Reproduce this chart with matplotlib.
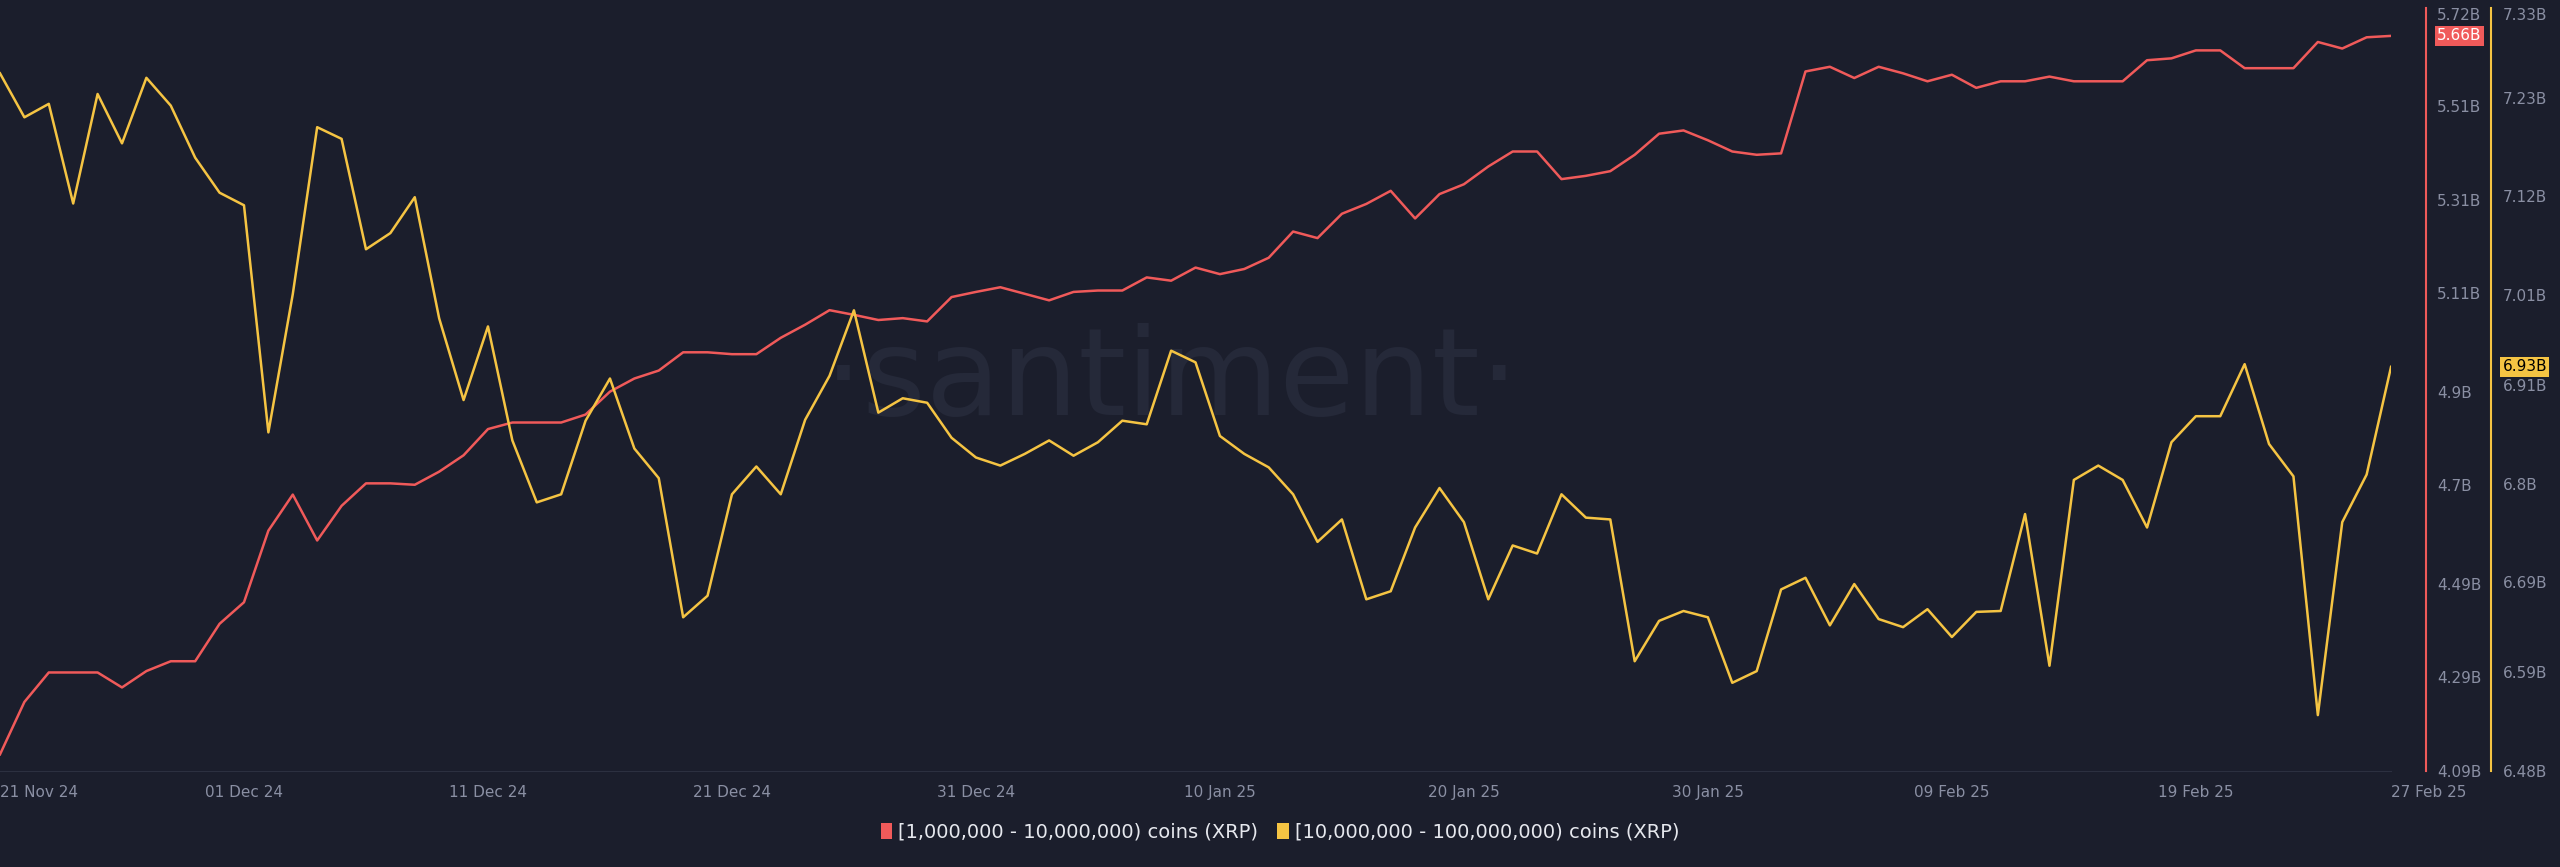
import pandas as pd
import matplotlib
matplotlib.use('Agg')
import matplotlib.pyplot as plt

# daily balances (billions of XRP) held by wallet cohorts, 21 Nov 24 - 27 Feb 25
dates = pd.date_range('2024-11-21', '2025-02-27', freq='D')
small_whales = [
    4.125, 4.237, 4.300, 4.300, 4.300, 4.268, 4.303, 4.324, 4.324, 4.404,
    4.450, 4.603, 4.680, 4.582, 4.656, 4.704, 4.704, 4.701, 4.729, 4.764,
    4.820, 4.834, 4.834, 4.834, 4.851, 4.900, 4.928, 4.945, 4.984, 4.984,
    4.980, 4.980, 5.015, 5.043, 5.074, 5.064, 5.053, 5.057, 5.050, 5.102,
    5.113, 5.123, 5.109, 5.095, 5.113, 5.116, 5.116, 5.144, 5.137, 5.165,
    5.151, 5.162, 5.186, 5.242, 5.228, 5.280, 5.301, 5.329, 5.270, 5.322,
    5.343, 5.381, 5.413, 5.413, 5.354, 5.361, 5.371, 5.406, 5.451, 5.458,
    5.437, 5.413, 5.406, 5.409, 5.584, 5.594, 5.570, 5.594, 5.580, 5.563,
    5.577, 5.549, 5.563, 5.563, 5.573, 5.563, 5.563, 5.563, 5.608, 5.612,
    5.629, 5.629, 5.591, 5.591, 5.591, 5.647, 5.633, 5.657, 5.660]
big_whales = [
    7.257, 7.208, 7.223, 7.112, 7.234, 7.179, 7.252, 7.221, 7.163, 7.124,
    7.110, 6.857, 7.011, 7.197, 7.184, 7.061, 7.079, 7.119, 6.984, 6.893,
    6.975, 6.848, 6.779, 6.788, 6.870, 6.917, 6.839, 6.806, 6.651, 6.675,
    6.788, 6.819, 6.788, 6.871, 6.920, 6.993, 6.879, 6.895, 6.890, 6.851,
    6.829, 6.820, 6.833, 6.848, 6.831, 6.846, 6.870, 6.866, 6.948, 6.935,
    6.853, 6.833, 6.818, 6.788, 6.735, 6.760, 6.671, 6.680, 6.751, 6.795,
    6.757, 6.671, 6.731, 6.722, 6.788, 6.762, 6.760, 6.602, 6.647, 6.658,
    6.651, 6.578, 6.591, 6.682, 6.695, 6.642, 6.688, 6.649, 6.640, 6.660,
    6.629, 6.657, 6.658, 6.766, 6.597, 6.804, 6.820, 6.804, 6.751, 6.846,
    6.875, 6.875, 6.933, 6.844, 6.808, 6.542, 6.757, 6.810, 6.930]

red_ticks = [4.09, 4.29, 4.49, 4.7, 4.9, 5.11, 5.31, 5.51, 5.72]
yellow_ticks = [6.48, 6.59, 6.69, 6.8, 6.91, 7.01, 7.12, 7.23, 7.33]
x_ticks = ['2024-11-21', '2024-12-01', '2024-12-11', '2024-12-21', '2024-12-31',
           '2025-01-10', '2025-01-20', '2025-01-30', '2025-02-09', '2025-02-19', '2025-02-27']
labels = ['[1,000,000 - 10,000,000) coins (XRP)', '[10,000,000 - 100,000,000) coins (XRP)']

BG = '#1b1e2c'
RED = '#f05a5a'
YEL = '#f5c443'
TXT = '#8a8fa3'

fig = plt.figure(figsize=(25.6, 8.67), dpi=100, facecolor=BG)
ax = fig.add_axes([0, 0.111, 0.934, 0.88], facecolor=BG)
ax2 = ax.twinx()

# watermark behind the lines
ax.text(0.49, 0.51, '·santiment·', transform=ax.transAxes, fontsize=88,
        color='#252939', ha='center', va='center', zorder=0)

ax.plot(dates, small_whales, color=RED, lw=1.8, zorder=3)
ax2.plot(dates, big_whales, color=YEL, lw=1.8, zorder=3)
ax.set_xlim(dates[0], dates[-1])
ax.set_ylim(red_ticks[0], red_ticks[-1])
ax2.set_ylim(yellow_ticks[0], yellow_ticks[-1])

for s in ['top', 'left', 'right']:
    ax.spines[s].set_visible(False)
    ax2.spines[s].set_visible(False)
ax.spines['bottom'].set_color('#2c3040')
ax2.spines['bottom'].set_visible(False)

# stack both value axes at the right edge
ax.yaxis.tick_right()
ax.spines['right'].set_visible(True)
ax.spines['right'].set_position(('axes', 1.0146))
ax.spines['right'].set_color(RED)
ax.spines['right'].set_linewidth(1.5)
ax2.spines['right'].set_visible(True)
ax2.spines['right'].set_position(('axes', 1.042))
ax2.spines['right'].set_color(YEL)
ax2.spines['right'].set_linewidth(1.5)

ax.set_yticks(red_ticks)
ax.set_yticklabels([f'{t:g}B' for t in red_ticks])
ax2.set_yticks(yellow_ticks)
ax2.set_yticklabels([f'{t:g}B' for t in yellow_ticks])
for a in (ax, ax2):
    a.tick_params(axis='y', length=0, pad=8, labelsize=11, labelcolor=TXT)
ax.get_yticklabels()[-1].set_va('top')
ax2.get_yticklabels()[-1].set_va('top')

xt = pd.to_datetime(x_ticks)
ax.set_xticks(xt)
ax.set_xticklabels([d.strftime('%d %b %y') for d in xt])
ax.tick_params(axis='x', length=0, pad=10, labelsize=11, labelcolor=TXT)
ax.get_xticklabels()[0].set_ha('left')
ax.get_xticklabels()[-1].set_ha('left')

# last value badges
ax.annotate(f'{small_whales[-1]:.2f}B', xy=(1.0146, small_whales[-1]),
            xycoords=('axes fraction', 'data'), xytext=(8, 0), textcoords='offset points',
            va='center', ha='left', fontsize=11, color='white',
            bbox=dict(boxstyle='square,pad=0.15', fc=RED, ec='none'))
ax2.annotate(f'{big_whales[-1]:.2f}B', xy=(1.042, big_whales[-1]),
             xycoords=('axes fraction', 'data'), xytext=(8, 0), textcoords='offset points',
             va='center', ha='left', fontsize=11, color='black',
             bbox=dict(boxstyle='square,pad=0.15', fc=YEL, ec='none'))

h1 = plt.Rectangle((0, 0), 1, 1, fc=RED)
h2 = plt.Rectangle((0, 0), 1, 1, fc=YEL)
fig.legend([h1, h2], labels, loc='center', bbox_to_anchor=(0.5, 0.04), ncol=2,
           frameon=False, fontsize=14, labelcolor='#e6e8ee', handlelength=0.6,
           handleheight=0.9, handletextpad=0.3, columnspacing=1.0)

fig.savefig('out.png', dpi=100, facecolor=BG)
